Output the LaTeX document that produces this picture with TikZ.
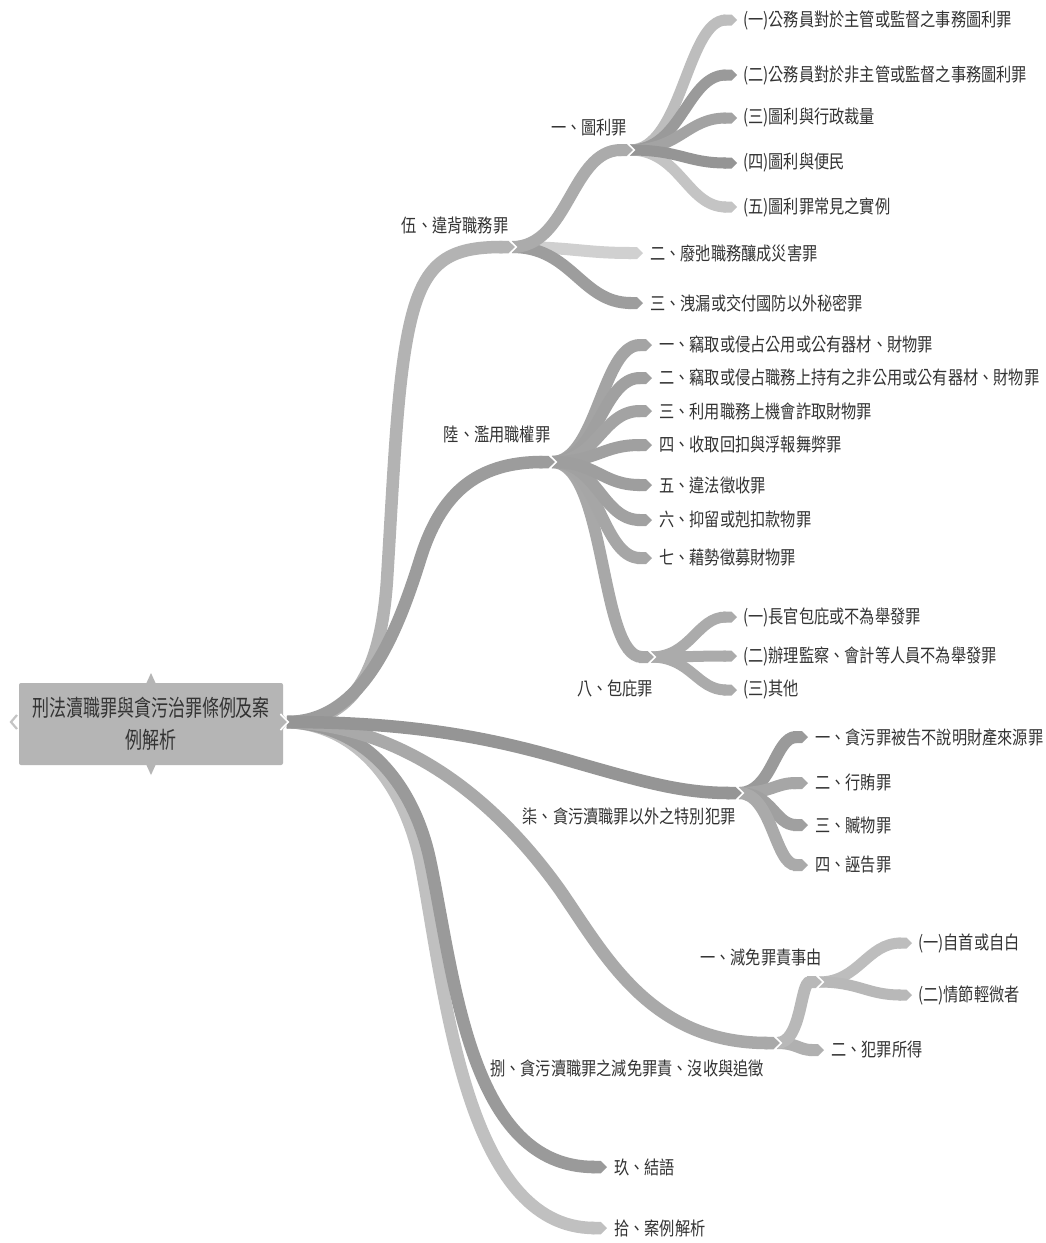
\documentclass[tikz,border=0pt]{standalone}
\usepackage{fontspec}
\setmainfont{Noto Sans CJK TC}
\usepackage{graphicx}
\usetikzlibrary{arrows.meta,calc}
\definecolor{txt}{HTML}{333333}
\definecolor{cRoot}{HTML}{B5B5B5}
\definecolor{c5}{HTML}{B3B3B3}
\definecolor{c51}{HTML}{ABABAB}
\definecolor{c511}{HTML}{BDBDBD}
\definecolor{c512}{HTML}{9A9A9A}
\definecolor{c513}{HTML}{A3A3A3}
\definecolor{c514}{HTML}{959595}
\definecolor{c515}{HTML}{C4C4C4}
\definecolor{c52}{HTML}{D0D0D0}
\definecolor{c53}{HTML}{9D9D9D}
\definecolor{c6}{HTML}{9C9C9C}
\definecolor{c61}{HTML}{A4A4A4}
\definecolor{c62}{HTML}{A0A0A0}
\definecolor{c63}{HTML}{A3A3A3}
\definecolor{c64}{HTML}{A0A0A0}
\definecolor{c65}{HTML}{9E9E9E}
\definecolor{c66}{HTML}{A1A1A1}
\definecolor{c67}{HTML}{A6A6A6}
\definecolor{c68}{HTML}{A8A8A8}
\definecolor{c68x}{HTML}{ABABAB}
\definecolor{c7}{HTML}{959595}
\definecolor{c71}{HTML}{9A9A9A}
\definecolor{c72}{HTML}{A6A6A6}
\definecolor{c73}{HTML}{A0A0A0}
\definecolor{c74}{HTML}{AAAAAA}
\definecolor{c8}{HTML}{A9A9A9}
\definecolor{c81}{HTML}{B8B8B8}
\definecolor{c811}{HTML}{BDBDBD}
\definecolor{c812}{HTML}{B8B8B8}
\definecolor{c82}{HTML}{B0B0B0}
\definecolor{c9}{HTML}{9A9A9A}
\definecolor{c10}{HTML}{C0C0C0}
\newcommand{\lt}[1]{\scalebox{1}[1.22]{#1}}
\newcommand{\rt}[1]{\scalebox{1}[1.35]{#1}}
\newcommand{\sepat}[1]{\draw[sepline] ($(#1)+(-6.6,-8)$) -- ($(#1)+(1.2,0)$) -- ($(#1)+(-6.6,8)$);}
\begin{document}
\begin{tikzpicture}[x=1pt,y=-1pt,
  br/.style={line width=#1, -{Triangle Cap}},
  lbl/.style={text=txt, inner sep=0pt, font=\fontsize{15.2}{18}\selectfont},
  leaf/.style={lbl, anchor=west},
  sepline/.style={draw=white, line width=1.6pt, line join=miter},
  rootbox/.style={fill=cRoot, rounded corners=2pt, minimum width=264pt, minimum height=82pt,
    align=center, text=txt, font=\fontsize{17}{32}\selectfont, inner sep=0pt}
]
\fill[white] (0,0) rectangle (1046,1243);
\useasboundingbox (0,0) rectangle (1046,1243);

% ---------- coordinates ----------
\coordinate (R) at (287,722);
\coordinate (E5) at (515,247);
\coordinate (E6) at (555,462);
\coordinate (E7) at (742,793);
\coordinate (E8) at (780,1043);
\coordinate (E9) at (607,1167);
\coordinate (E10) at (607,1228);
\coordinate (E51) at (633,150);
\coordinate (E52) at (643,253);
\coordinate (E53) at (643,303);
\coordinate (E511) at (737,20);
\coordinate (E512) at (737,75);
\coordinate (E513) at (737,118);
\coordinate (E514) at (737,163);
\coordinate (E515) at (737,207);
\coordinate (E61) at (652,345);
\coordinate (E62) at (652,378);
\coordinate (E63) at (652,411);
\coordinate (E64) at (652,445);
\coordinate (E65) at (652,485);
\coordinate (E66) at (652,520);
\coordinate (E67) at (652,558);
\coordinate (E68) at (654,657);
\coordinate (E681) at (737,617);
\coordinate (E682) at (737,656);
\coordinate (E683) at (737,690);
\coordinate (E71) at (808,737);
\coordinate (E72) at (808,783);
\coordinate (E73) at (808,825);
\coordinate (E74) at (808,865);
\coordinate (E81) at (822,982);
\coordinate (E82) at (824,1050);
\coordinate (E811) at (912,943);
\coordinate (E812) at (912,995);

% ---------- level 3 ----------
\draw[br=11pt, c511] ($(E51)+(-3,0)$) .. controls +(52,0) and +(-50,0) .. (E511);
\draw[br=11pt, c512] ($(E51)+(-3,0)$) .. controls +(52,0) and +(-50,0) .. (E512);
\draw[br=11pt, c513] ($(E51)+(-3,0)$) .. controls +(50,0) and +(-50,0) .. (E513);
\draw[br=11pt, c515] ($(E51)+(-3,0)$) .. controls +(50,0) and +(-50,0) .. (E515);
\draw[br=11pt, c514] ($(E51)+(-3,0)$) .. controls +(50,0) and +(-50,0) .. (E514);
\draw[br=11pt, c68x] ($(E68)+(-3,0)$) .. controls +(40,0) and +(-40,0) .. (E681);
\draw[br=11pt, c68x] ($(E68)+(-3,0)$) .. controls +(40,0) and +(-40,0) .. (E682);
\draw[br=11pt, c68x] ($(E68)+(-3,0)$) .. controls +(40,0) and +(-40,0) .. (E683);
\draw[br=11pt, c811] ($(E81)+(-3,0)$) .. controls +(40,0) and +(-45,0) .. (E811);
\draw[br=11pt, c812] ($(E81)+(-3,0)$) .. controls +(40,0) and +(-45,0) .. (E812);

% ---------- level 2 ----------
\draw[br=12pt, c52] ($(E5)+(-3,0)$) .. controls +(60,0) and +(-60,0) .. (E52);
\draw[br=12pt, c53] ($(E5)+(-3,0)$) .. controls +(60,0) and +(-62,0) .. (E53);
\draw[br=12pt, c51] ($(E5)+(-3,0)$) .. controls +(57,0) and +(-62,0) .. (E51);
\draw[br=12pt, c61] ($(E6)+(-3,0)$) .. controls +(45,0) and +(-50,0) .. (E61);
\draw[br=12pt, c62] ($(E6)+(-3,0)$) .. controls +(45,0) and +(-50,0) .. (E62);
\draw[br=12pt, c63] ($(E6)+(-3,0)$) .. controls +(45,0) and +(-50,0) .. (E63);
\draw[br=12pt, c64] ($(E6)+(-3,0)$) .. controls +(45,0) and +(-50,0) .. (E64);
\draw[br=12pt, c68] ($(E6)+(-3,0)$) .. controls +(55,0) and +(-55,0) .. (E68);
\draw[br=12pt, c67] ($(E6)+(-3,0)$) .. controls +(45,0) and +(-50,0) .. (E67);
\draw[br=12pt, c66] ($(E6)+(-3,0)$) .. controls +(45,0) and +(-50,0) .. (E66);
\draw[br=12pt, c65] ($(E6)+(-3,0)$) .. controls +(45,0) and +(-50,0) .. (E65);
\draw[br=12pt, c71] ($(E7)+(-3,0)$) .. controls +(33,0) and +(-33,0) .. (E71);
\draw[br=12pt, c72] ($(E7)+(-3,0)$) .. controls +(33,0) and +(-33,0) .. (E72);
\draw[br=12pt, c73] ($(E7)+(-3,0)$) .. controls +(33,0) and +(-33,0) .. (E73);
\draw[br=12pt, c74] ($(E7)+(-3,0)$) .. controls +(33,0) and +(-33,0) .. (E74);
\draw[br=12pt, c82] ($(E8)+(-3,0)$) .. controls +(20,0) and +(-25,0) .. (E82);
\draw[br=12pt, c81] ($(E8)+(-3,0)$) .. controls +(25,0) and +(-22,0) .. (E81);

% ---------- level 1 ----------
\draw[br=12.5pt, c10] (R) .. controls (362,725) and (405,790) .. (420,860)
   .. controls (445,990) and (465,1228) .. (E10);
\draw[br=12.5pt, c9] (R) .. controls (370,725) and (415,790) .. (430,860)
   .. controls (455,980) and (470,1167) .. (E9);
\draw[br=12.5pt, c8] (R) .. controls (420,726) and (510,820) .. (560,890)
   .. controls (605,955) and (650,1043) .. (E8);
\draw[br=12.5pt, c5] (R) .. controls (345,722) and (380,685) .. (387,580)
   .. controls (395,450) and (398,360) .. (415,305)
   .. controls (430,258) and (455,247) .. (E5);
\draw[br=12.5pt, c6] (R) .. controls (360,722) and (395,640) .. (420,560)
   .. controls (440,495) and (475,462) .. (E6);
\draw[br=12.5pt, c7] (R) .. controls (400,722) and (480,735) .. (560,758)
   .. controls (640,781) and (680,793) .. (E7);

% ---------- separators at junctions ----------
\sepat{E5}
\sepat{E51}
\sepat{E6}
\sepat{E68}
\sepat{E7}
\sepat{E8}
\sepat{E81}

% ---------- root ----------
\node[rootbox] (root) at (151,724) {\rt{刑法瀆職罪與貪污治罪條例及案}\\\rt{例解析}};
\fill[cRoot] (146,684) -- (151,673) -- (156,684) -- cycle;
\fill[cRoot] (146,764) -- (151,775) -- (156,764) -- cycle;
\fill[cRoot] (283,715) -- (289,722) -- (283,729) -- cycle;
\draw[cRoot!80, line width=2.2pt] (17,715) -- (11,722) -- (17,729);
\sepat{R}

% ---------- labels ----------
\node[lbl] (t5) at (455,225) {\lt{伍、違背職務罪}};
\node[lbl] (t6) at (497,435) {\lt{陸、濫用職權罪}};
\node[lbl] (t7) at (629,816) {\lt{柒、貪污瀆職罪以外之特別犯罪}};
\node[lbl] (t8) at (627,1068) {\lt{捌、貪污瀆職罪之減免罪責、沒收與追徵}};
\node[leaf] (t9) at ($(E9)+(7,0)$) {\lt{玖、結語}};
\node[leaf] (t10) at ($(E10)+(7,0)$) {\lt{拾、案例解析}};

\node[lbl] (t51) at (589,128) {\lt{一、圖利罪}};
\node[leaf] (t52) at ($(E52)+(7,0)$) {\lt{二、廢弛職務釀成災害罪}};
\node[leaf] (t53) at ($(E53)+(7,0)$) {\lt{三、洩漏或交付國防以外秘密罪}};
\node[leaf] (t511) at ($(E511)+(6,0)$) {\lt{(一)公務員對於主管或監督之事務圖利罪}};
\node[leaf] (t512) at ($(E512)+(6,0)$) {\lt{(二)公務員對於非主管或監督之事務圖利罪}};
\node[leaf] (t513) at ($(E513)+(6,0)$) {\lt{(三)圖利與行政裁量}};
\node[leaf] (t514) at ($(E514)+(6,0)$) {\lt{(四)圖利與便民}};
\node[leaf] (t515) at ($(E515)+(6,0)$) {\lt{(五)圖利罪常見之實例}};

\node[leaf] (t61) at ($(E61)+(7,0)$) {\lt{一、竊取或侵占公用或公有器材、財物罪}};
\node[leaf] (t62) at ($(E62)+(7,0)$) {\lt{二、竊取或侵占職務上持有之非公用或公有器材、財物罪}};
\node[leaf] (t63) at ($(E63)+(7,0)$) {\lt{三、利用職務上機會詐取財物罪}};
\node[leaf] (t64) at ($(E64)+(7,0)$) {\lt{四、收取回扣與浮報舞弊罪}};
\node[leaf] (t65) at ($(E65)+(7,0)$) {\lt{五、違法徵收罪}};
\node[leaf] (t66) at ($(E66)+(7,0)$) {\lt{六、抑留或剋扣款物罪}};
\node[leaf] (t67) at ($(E67)+(7,0)$) {\lt{七、藉勢徵募財物罪}};
\node[lbl] (t68) at (615,688) {\lt{八、包庇罪}};
\node[leaf] (t681) at ($(E681)+(6,0)$) {\lt{(一)長官包庇或不為舉發罪}};
\node[leaf] (t682) at ($(E682)+(6,0)$) {\lt{(二)辦理監察、會計等人員不為舉發罪}};
\node[leaf] (t683) at ($(E683)+(6,0)$) {\lt{(三)其他}};

\node[leaf] (t71) at ($(E71)+(7,0)$) {\lt{一、貪污罪被告不說明財產來源罪}};
\node[leaf] (t72) at ($(E72)+(7,0)$) {\lt{二、行賄罪}};
\node[leaf] (t73) at ($(E73)+(7,0)$) {\lt{三、贓物罪}};
\node[leaf] (t74) at ($(E74)+(7,0)$) {\lt{四、誣告罪}};

\node[lbl] (t81) at (761,957) {\lt{一、減免罪責事由}};
\node[leaf] (t811) at ($(E811)+(6,0)$) {\lt{(一)自首或自白}};
\node[leaf] (t812) at ($(E812)+(6,0)$) {\lt{(二)情節輕微者}};
\node[leaf] (t82) at ($(E82)+(7,0)$) {\lt{二、犯罪所得}};
\end{tikzpicture}
\end{document}
